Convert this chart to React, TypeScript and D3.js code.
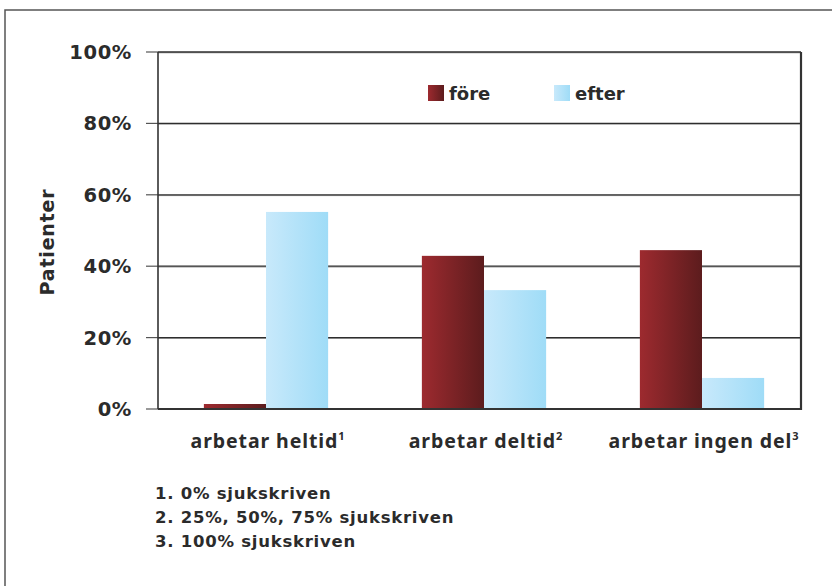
import React from "react";
import * as d3 from "d3";

const categories = ["arbetar heltid", "arbetar deltid", "arbetar ingen del"];
const superscripts = ["1", "2", "3"];
const series = ["före", "efter"];
const foreValues = [1.4, 42.9, 44.5];
const efterValues = [55.2, 33.3, 8.7];
const yTicks = [0, 20, 40, 60, 80, 100];
const footnotes = ["1. 0% sjukskriven", "2. 25%, 50%, 75% sjukskriven", "3. 100% sjukskriven"];
const yTitle = "Patienter";

const W = 832;
const H = 586;
const plotLeft = 158;
const plotRight = 801;
const plotTop = 52;
const plotBottom = 409;

export default function App() {
  const y = d3.scaleLinear().domain([0, 100]).range([plotBottom, plotTop]);
  const x = d3.scaleBand<string>().domain(categories).range([157, 811]).paddingInner(0.43).paddingOuter(0.215);
  const xs = d3.scaleBand<string>().domain(series).range([0, x.bandwidth()]);
  const valuesBySeries = [foreValues, efterValues];
  const textColor = "#2b2b2b";
  const font = "'DejaVu Sans', sans-serif";

  return (
    <div style={{ position: "absolute", left: 0, top: 0 }}>
      <svg width={W} height={H} style={{ display: "block", background: "#fff" }}>
        <defs>
          <linearGradient id="gFore" x1="0" x2="1" y1="0" y2="0">
            <stop offset="0" stopColor="#9d2a2f" />
            <stop offset="1" stopColor="#5c1c1d" />
          </linearGradient>
          <linearGradient id="gEfter" x1="0" x2="1" y1="0" y2="0">
            <stop offset="0" stopColor="#c8e9fb" />
            <stop offset="1" stopColor="#9fdcf7" />
          </linearGradient>
        </defs>
        {/* outer frame */}
        <rect x={5} y={10} width={W + 20} height={H + 20} fill="none" stroke="#555" strokeWidth={1.5} />

        {/* gridlines */}
        {yTicks.filter((t) => t > 0).map((t) => (
          <g key={t}>
            <line x1={plotLeft} x2={plotRight} y1={y(t) + 0.8} y2={y(t) + 0.8} stroke="#999" strokeWidth={1} />
            <line x1={plotLeft} x2={plotRight} y1={y(t)} y2={y(t)} stroke="#2e2e2e" strokeWidth={1.3} />
          </g>
        ))}
        {/* ticks */}
        {yTicks.map((t) => (
          <line key={"tk" + t} x1={146} x2={plotLeft} y1={y(t)} y2={y(t)} stroke="#555" strokeWidth={1.2} />
        ))}

        {/* bars */}
        {valuesBySeries.map((vals, si) =>
          vals.map((v, ci) => (
            <rect
              key={si + "-" + ci}
              x={(x(categories[ci]) as number) + (xs(series[si]) as number)}
              y={y(v)}
              width={xs.bandwidth()}
              height={plotBottom - y(v)}
              fill={si === 0 ? "url(#gFore)" : "url(#gEfter)"}
            />
          ))
        )}

        {/* axes frame */}
        <line x1={plotLeft} x2={plotLeft} y1={plotTop} y2={plotBottom} stroke="#333" strokeWidth={1.6} />
        <line x1={plotRight} x2={plotRight} y1={plotTop} y2={plotBottom + 1} stroke="#333" strokeWidth={2.2} />
        <line x1={plotLeft} x2={plotRight + 1} y1={plotBottom} y2={plotBottom} stroke="#333" strokeWidth={2.2} />

        {/* y tick labels */}
        {yTicks.map((t) => (
          <text
            key={"tl" + t}
            x={132}
            y={y(t)}
            dy="0.36em"
            textAnchor="end"
            fontFamily={font}
            fontWeight="bold"
            fontSize={19.5}
            letterSpacing={0.6}
            fill={textColor}
          >
            {t + "%"}
          </text>
        ))}

        {/* y title */}
        <text
          transform={`translate(54,242) rotate(-90)`}
          textAnchor="middle"
          fontFamily={font}
          fontWeight="bold"
          fontSize={19}
          letterSpacing={0.8}
          fill={textColor}
        >
          {yTitle}
        </text>

        {/* category labels */}
        {categories.map((c, i) => (
          <text
            key={"c" + c}
            x={(x(c) as number) + x.bandwidth() / 2 + 2}
            y={448}
            textAnchor="middle"
            fontFamily="'Noto Sans', sans-serif"
            fontWeight="bold"
            fontSize={19.5}
            letterSpacing={0.9}
            fill={textColor}
          >
            {c}
            <tspan dy={-8} fontSize={11}>{superscripts[i]}</tspan>
          </text>
        ))}

        {/* legend */}
        {series.map((s, i) => (
          <g key={"lg" + s} transform={`translate(${i === 0 ? 428 : 554},85)`}>
            <rect width={16} height={16} fill={i === 0 ? "url(#gFore)" : "url(#gEfter)"} />
            <text x={21} y={15} fontFamily={font} fontWeight="bold" fontSize={18} fill={textColor}>
              {s}
            </text>
          </g>
        ))}

        {/* footnotes */}
        {footnotes.map((f, i) => (
          <text
            key={"fn" + i}
            x={155}
            y={499 + i * 24}
            fontFamily={font}
            fontWeight="bold"
            fontSize={16.5}
            letterSpacing={0.75}
            fill={textColor}
          >
            {f}
          </text>
        ))}
      </svg>
    </div>
  );
}
